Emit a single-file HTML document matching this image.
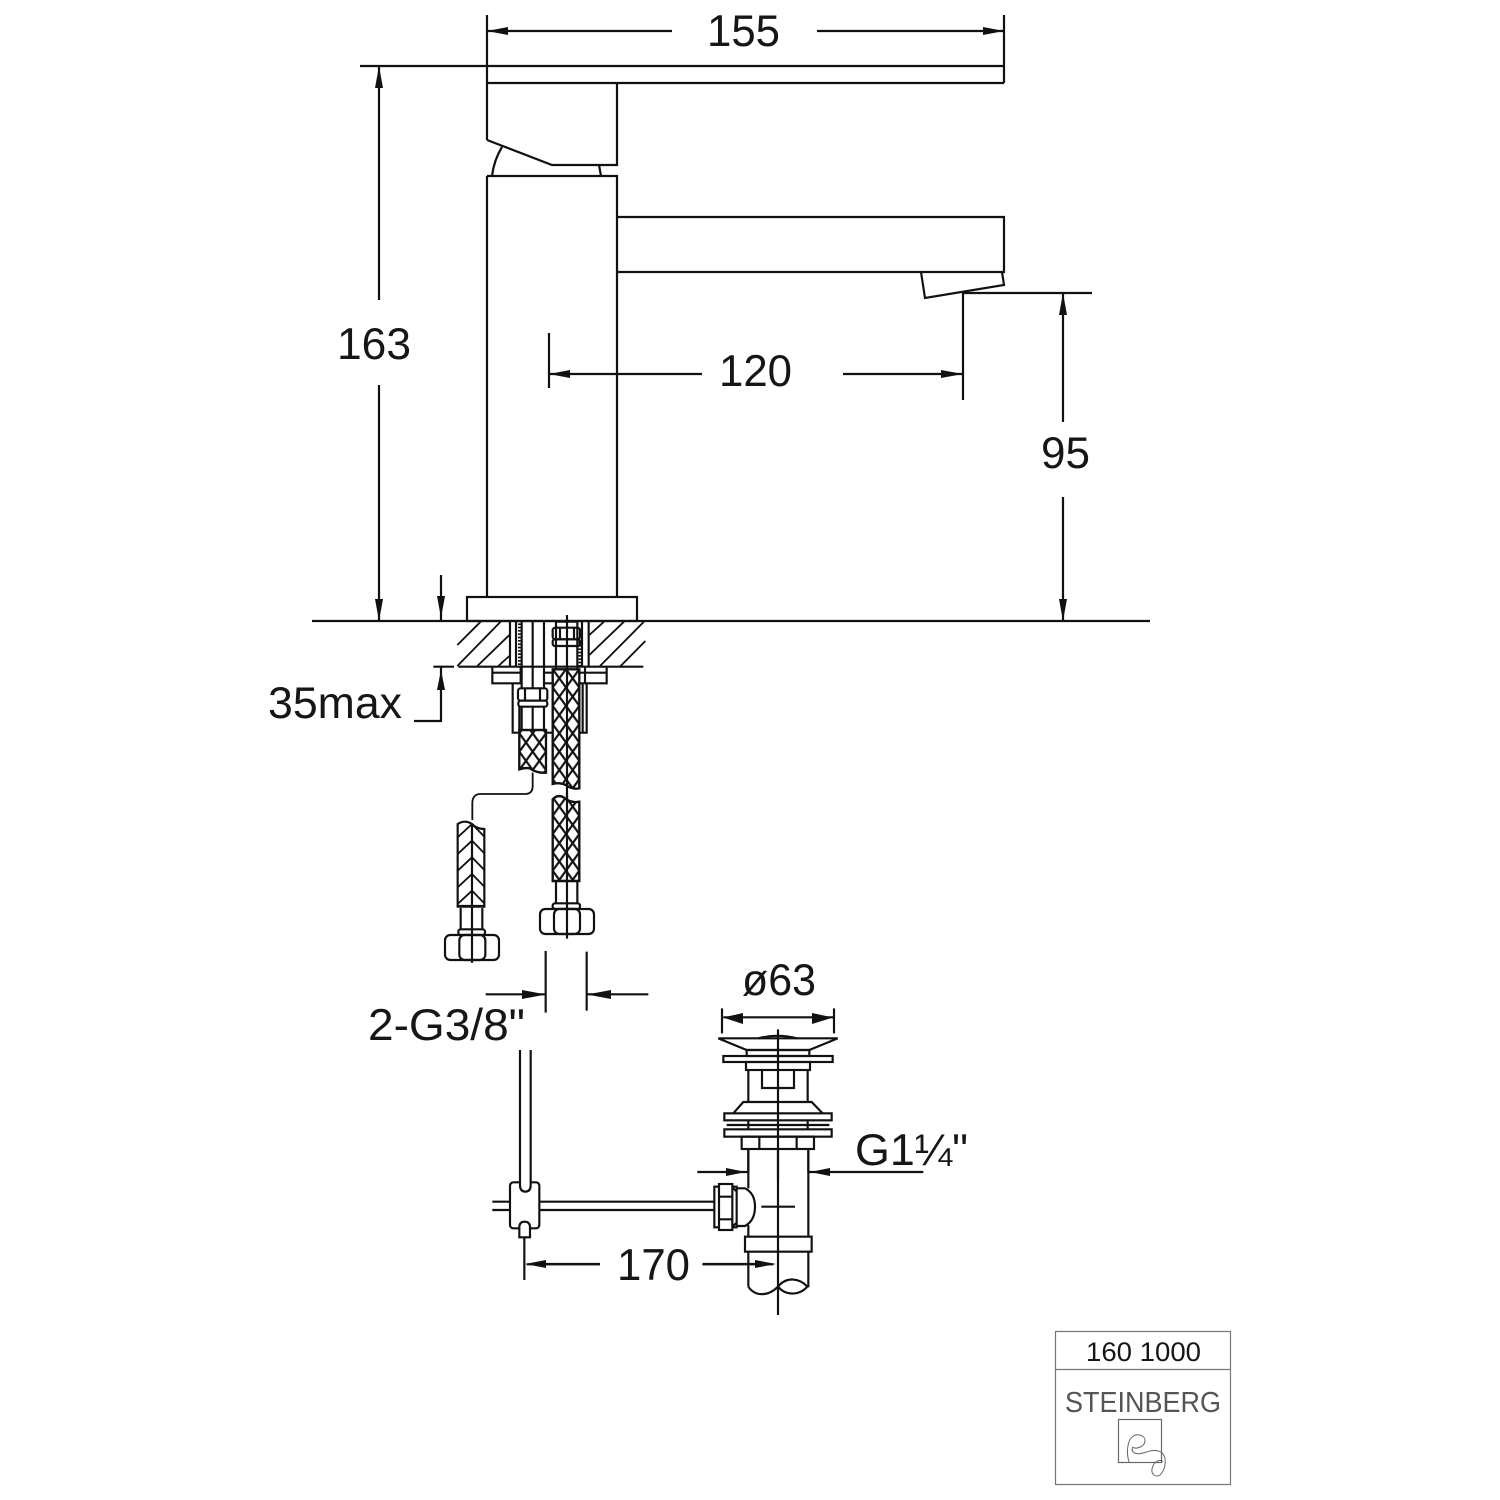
<!DOCTYPE html>
<html><head><meta charset="utf-8"><style>
html,body{margin:0;padding:0;background:#fff}
svg{display:block}
text{font-family:"Liberation Sans",sans-serif;fill:#161616}
</style></head><body>
<svg width="1500" height="1500" viewBox="0 0 1500 1500" xmlns="http://www.w3.org/2000/svg">
<defs>
<pattern id="xh" patternUnits="userSpaceOnUse" width="40" height="55" x="8" y="47.5">
<path d="M-2,-2.75 L42,57.75 M-2,57.75 L42,-2.75" stroke="#111" stroke-width="6.5" fill="none"/>
</pattern>
<pattern id="xh2" patternUnits="userSpaceOnUse" width="40" height="55" x="8" y="52">
<path d="M-2,-2.75 L42,57.75 M-2,57.75 L42,-2.75" stroke="#111" stroke-width="6.5" fill="none"/>
</pattern>
<clipPath id="cl"><path d="M83,380 V132 Q105,118 126,132 Q140,147 163,147 V380 Z"/></clipPath>
</defs>
<rect width="1500" height="1500" fill="#fff"/>

<g fill="none" stroke="#111" stroke-width="2.2">
<!-- faucet -->
<path d="M487,15 V140 M487,176 V597 M1004,15 V83 M360,66 H1004 M487,83 H1004"/>
<path d="M617,83 V165 H552 L487,140"/>
<path d="M492,176 Q494,160 502,147 M601,176 L599,165"/>
<path d="M487,176 H617 V597"/>
<path d="M617,217 H1004 V272 H617"/>
<path d="M921,272 L925,298 L1004,285 L1002,272"/>
<path d="M963,293 H1092 M963,293 V400"/>
<rect x="467" y="597" width="170" height="24"/>
<path d="M312,621 H1150"/>
<!-- dimension lines -->
<path d="M487,31 H672 M817,31 H1004"/>
<path d="M379,66 V300 M379,385 V621"/>
<path d="M549,333 V388 M549,374 H702 M843,374 H963"/>
<path d="M1063,293 V422 M1063,497 V621"/>
<path d="M441,575 V621 M441,667 V721 H414"/>
</g>
<g fill="#111" stroke="none">
<polygon points="487,31 508,27 508,35"/>
<polygon points="1004,31 983,27 983,35"/>
<polygon points="379,66 375,88 383,88"/>
<polygon points="379,621 375,599 383,599"/>
<polygon points="549,374 570,370 570,378"/>
<polygon points="963,374 941,370 941,378"/>
<polygon points="1063,293 1059,315 1067,315"/>
<polygon points="1063,621 1059,599 1067,599"/>
<polygon points="441,618 437,596 445,596"/>
<polygon points="441,670 437,690 445,690"/>
</g>

<!-- under-deck detail -->
<g transform="translate(430 580) scale(.33333)" fill="none" stroke="#111" stroke-width="6.5">
<path stroke-width="5.5" d="M82,195 L152,125 M82,258 L212,125 M142,258 L238,165 M205,258 L238,228 M478,165 L522,125 M478,225 L582,125 M510,258 L642,125 M570,260 L646,183"/>
<path d="M10,260 H72 M85,260 H640"/>
<path d="M240,123 V262 M258,123 V262 M275,123 V325 M308,123 V325 M342,123 V325 M378,123 V268 M442,123 V268 M456,123 V262 M476,123 V262"/>
<path d="M268,130 V255 M449,185 V262" stroke-width="8" stroke-dasharray="5 5"/>
<path d="M378,125 H442"/>
<rect x="368" y="143" width="82" height="35" rx="8"/>
<rect x="368" y="178" width="82" height="20" rx="7"/>
<path d="M390,143 V178 M432,143 V178"/>
<path d="M272,278 H187 V310 H272 V262 M342,278 H368 M342,310 H368 M465,278 H530 V310 H465 V262 M450,278 H465 M450,310 H465 M187,262 V278 M530,262 V278"/>
<path d="M248,310 V458 H470 V310"/>
<path d="M268,380 V450 M458,310 V458"/>
<rect x="264" y="325" width="88" height="37" rx="8" fill="#fff"/>
<rect x="265" y="362" width="87" height="18" rx="7" fill="#fff"/>
<path d="M285,325 V362 M330,325 V362"/>
<path d="M275,380 V450 M308,380 V450 M342,380 V450"/>
<path d="M268,568 V450 H348 V578 Q320,580 300,565 Q285,562 268,568 Z" fill="#fff"/>
<path d="M268,568 V450 H348 V578 Q320,580 300,565 Q285,562 268,568 Z" fill="url(#xh)"/>
<path d="M368,612 V268 H448 V625 Q430,628 415,620 Q395,605 368,612 Z" fill="#fff"/>
<path d="M368,612 V268 H448 V625 Q430,628 415,620 Q395,605 368,612 Z" fill="url(#xh)"/>
<path d="M411,105 V720"/>
<path d="M308,578 V618 Q308,642 285,642 H152 Q127,642 127,670 V720" stroke-width="5.5"/>
</g>

<!-- hoses -->
<g transform="translate(430 780) scale(.33333)" fill="none" stroke="#111" stroke-width="6.5">
<path d="M83,380 V132 Q105,118 126,132 Q140,147 163,147 V380 Z" fill="#fff"/>
<g clip-path="url(#cl)" stroke-width="5.5">
<polyline points="83,172 126,132 163,170"/>
<polyline points="83,222 126,182 163,220"/>
<polyline points="83,272 126,232 163,270"/>
<polyline points="83,322 126,282 163,320"/>
<polyline points="83,372 126,332 163,370"/>
</g>
<path d="M92,384 V448 M157,384 V448 M126,130 V548"/>
<path d="M83,378 H163"/>
<rect x="85" y="448" width="80" height="17" rx="7" fill="#fff"/>
<rect x="45" y="465" width="162" height="75" rx="16" fill="#fff"/>
<rect x="88" y="465" width="78" height="75" rx="16"/>
<path d="M126,448 V548"/>
<path d="M368,303 V58 Q385,40 405,55 Q425,70 448,65 V303 Z" fill="#fff"/>
<path d="M368,303 V58 Q385,40 405,55 Q425,70 448,65 V303 Z" fill="url(#xh2)"/>
<path d="M378,305 V370 M442,305 V370 M368,303 H448"/>
<rect x="368" y="370" width="82" height="17" rx="7" fill="#fff"/>
<rect x="330" y="387" width="162" height="75" rx="16" fill="#fff"/>
<rect x="372" y="387" width="78" height="75" rx="16"/>
<path d="M411,40 V476"/>
<path d="M347,513 V698 M470,515 V692 M167,643 H347 M470,643 H655"/>
</g>
<g fill="#111"><polygon points="546,994.5 522,990 522,999"/><polygon points="587,994.5 611,990 611,999"/></g>

<!-- waste -->
<g transform="translate(690 1000) scale(.33333)" fill="none" stroke="#111" stroke-width="6.5">
<path d="M96,25 V100 M432,25 V100 M100,52 H430"/>
<path d="M85,115 H443 L358,150 H170 Z"/>
<path d="M205,115 Q262,100 320,115" />
<rect x="170" y="150" width="188" height="18"/>
<rect x="100" y="168" width="328" height="18"/>
<rect x="168" y="186" width="192" height="24"/>
<path d="M175,210 V306 M353,210 V306"/>
<path d="M216,210 V264 H312 V210"/>
<path d="M130,340 L160,306 H365 L398,340"/>
<rect x="103" y="340" width="322" height="21"/>
<path d="M110,375 H175 M353,375 H418 M175,361 V388 M353,361 V388 M175,375 H353"/>
<rect x="103" y="388" width="322" height="22"/>
<rect x="155" y="410" width="217" height="37"/>
<path d="M208,410 V447 M320,410 V447"/>
<path d="M264,88 V540"/>
<path d="M175,447 V515 M355,447 V515"/>
</g>
<g fill="#111">
<polygon points="723,1017.5 743,1013 743,1024"/>
<polygon points="833,1017.5 812,1013 812,1024"/>
</g>
<g transform="translate(690 1150) scale(.33333)" fill="none" stroke="#111" stroke-width="6.5">
<path d="M22,66 H175 M355,66 H700"/>
<path d="M175,0 V115 M175,225 V260 M355,0 V260"/>
<path d="M140,115 H165 Q195,130 195,170 Q195,212 165,228 H140" fill="#fff"/>
<rect x="73" y="110" width="67" height="122" fill="#fff"/>
<rect x="87" y="102" width="40" height="138" fill="#fff"/>
<path d="M87,140 H127 M87,208 H127 M127,112 L140,125 M127,230 L140,218"/>
<path d="M214,170 H315"/>
<rect x="165" y="260" width="200" height="45"/>
<path d="M175,305 V410 M355,305 V412"/>
<path d="M175,410 C195,440 235,440 264,410 C290,378 330,385 352,410 C330,435 290,440 264,410"/>
<path d="M264,0 V495"/>
<path d="M37,343 H250"/>
</g>
<g fill="#111">
<polygon points="746,1172 726,1168 726,1176"/>
<polygon points="810,1172 830,1168 830,1176"/>
<polygon points="776,1264 755,1260 755,1268"/>
</g>

<!-- wall connection -->
<g transform="translate(480 1150) scale(.33333)" fill="none" stroke="#111" stroke-width="6.5">
<path d="M37,155 H90 M37,180 H90 M178,155 H705 M178,180 H705"/>
<rect x="90" y="97" width="88" height="138" rx="10" fill="#fff"/>
<path d="M120,-300 V105 Q120,125 136,125 Q152,125 152,105 V-300" fill="#fff"/>
<path d="M118,262 V232 Q118,215 134,215 Q150,215 150,232 V262 Z" fill="#fff"/>
<path d="M133,262 V390"/>
<path d="M140,343 H360"/>
</g>
<path d="M600,1264 H545 M703,1264 H760" stroke="#111" stroke-width="2.2" fill="none"/>
<polygon points="525,1264 546,1260 546,1268" fill="#111"/>

<!-- labels -->
<g font-size="44.5">
<text x="707" y="46" textLength="73" lengthAdjust="spacingAndGlyphs">155</text>
<text x="337" y="359" textLength="74" lengthAdjust="spacingAndGlyphs">163</text>
<text x="719" y="386" textLength="73" lengthAdjust="spacingAndGlyphs">120</text>
<text x="1041" y="468" textLength="49" lengthAdjust="spacingAndGlyphs">95</text>
<text x="268" y="718" textLength="134" lengthAdjust="spacingAndGlyphs">35max</text>
<text x="368" y="1040" textLength="157" lengthAdjust="spacingAndGlyphs">2-G3/8"</text>
<text x="742" y="995" textLength="74" lengthAdjust="spacingAndGlyphs">ø63</text>
<text x="855" y="1165" textLength="113" lengthAdjust="spacingAndGlyphs">G1¼"</text>
<text x="617" y="1280" textLength="73" lengthAdjust="spacingAndGlyphs">170</text>
</g>

<!-- title box -->
<g fill="none" stroke="#777" stroke-width="1.2">
<rect x="1055.5" y="1331.5" width="175" height="153"/>
<path d="M1055,1369.5 H1231"/>
<rect x="1118.5" y="1419.5" width="43" height="43" stroke="#666"/>
</g>
<g transform="translate(1110 1410) scale(.33333)" fill="none" stroke="#666" stroke-width="3">
<path d="M58,158 C48,130 52,95 65,82 C80,68 105,75 105,92 C105,110 80,118 68,112 C62,125 75,135 95,130 C115,125 135,115 155,128 C170,140 170,175 150,195 C135,205 120,190 128,170 C135,150 155,148 158,155"/>
</g>
<text x="1086" y="1361" font-size="27" textLength="115" lengthAdjust="spacingAndGlyphs">160 1000</text>
<text x="1065" y="1412" font-size="29" textLength="156" lengthAdjust="spacingAndGlyphs" style="fill:#555">STEINBERG</text>
</svg>
</body></html>
